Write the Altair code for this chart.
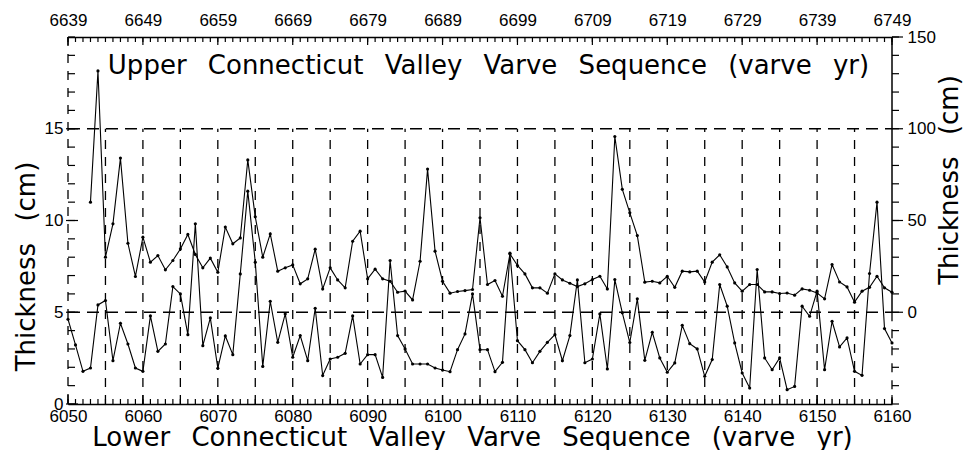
import altair as alt
import pandas as pd

# ---------------- data ----------------
lower_years = list(range(6050, 6161))
lower_thickness = [
    4.62, 3.22, 1.78, 1.96, 5.40, 5.64, 2.36, 4.40, 3.27, 1.96,
    1.78, 4.80, 2.87, 3.27, 6.40, 6.00, 3.78, 9.82, 3.18, 4.69,
    1.95, 3.71, 2.69, 7.09, 11.60, 7.73, 2.05, 5.60, 3.36, 4.91,
    2.55, 3.73, 2.36, 5.22, 1.55, 2.45, 2.55, 2.76, 4.80, 2.18,
    2.69, 2.69, 1.45, 7.82, 3.73, 3.00, 2.18, 2.18, 2.18, 1.96,
    1.85, 1.76, 2.96, 3.82, 6.00, 2.96, 2.96, 1.76, 2.27, 8.22,
    3.45, 2.96, 2.25, 2.87, 3.36, 3.78, 2.36, 3.73, 6.76, 2.25,
    2.45, 4.91, 1.91, 6.78, 4.97, 3.35, 5.73, 2.38, 3.91, 2.51,
    1.73, 2.24, 4.29, 3.29, 3.00, 1.51, 2.42, 6.51, 5.33, 3.33,
    1.69, 0.87, 7.33, 2.51, 1.87, 2.51, 0.78, 0.96, 5.33, 4.78,
    6.15, 1.87, 4.51, 3.11, 3.60, 1.78, 1.56, 7.11, 11.00, 4.11,
    3.33,
]

upper_years = list(range(6642, 6750))
upper_thickness = [
    60.0, 131.5, 30.0, 48.2, 84.0, 37.6, 19.5, 40.9, 27.3, 30.9,
    23.1, 28.2, 34.5, 42.4, 31.5, 24.2, 29.5, 21.8, 46.4, 37.3,
    40.5, 83.0, 52.0, 30.0, 42.7, 22.4, 24.2, 25.8, 15.5, 18.2,
    34.4, 12.7, 24.2, 17.6, 13.3, 38.7, 44.2, 18.2, 23.5, 18.2,
    16.9, 10.9, 11.5, 6.7, 27.8, 78.0, 33.3, 16.9, 10.4, 11.3,
    11.8, 12.4, 51.5, 15.1, 17.3, 8.7, 31.8, 25.5, 20.9, 13.3,
    13.3, 10.4, 20.9, 17.6, 15.8, 14.0, 15.5, 17.8, 19.6, 12.7,
    95.8, 67.0, 54.2, 41.8, 16.4, 16.9, 16.0, 19.6, 13.6, 22.4,
    22.0, 22.4, 16.5, 27.3, 31.3, 24.7, 16.0, 11.5, 15.1, 15.1,
    11.1, 11.1, 10.2, 10.5, 9.3, 12.7, 12.0, 10.5, 7.3, 26.0,
    16.5, 13.8, 5.5, 11.5, 13.6, 19.6, 13.3, 10.9,
]

bottom_tick_labels = list(range(6050, 6161, 10))
top_tick_labels = list(range(6639, 6750, 10))
top_minor_ticks = list(range(6639, 6750))
left_tick_labels = [0, 5, 10, 15]
left_minor_ticks = list(range(0, 21))
right_tick_labels = [0, 50, 100, 150]
right_minor_ticks = list(range(-50, 151, 10))
grid_years = list(range(6055, 6160, 5))
grid_levels = [5, 15]

GAP = "\u2002 "
lower_title = GAP.join(["Lower", "Connecticut", "Valley", "Varve", "Sequence", "(varve", "yr)"])
upper_title = GAP.join(["Upper", "Connecticut", "Valley", "Varve", "Sequence", "(varve", "yr)"])
y_title = "Thickness" + GAP + "(cm)"

# ---------------- style ----------------
W, H = 824, 367
TFONT = "DejaVu Sans"
LFONT = "Liberation Sans"
LSIZE = 17
TSIZE = 26


def xL():
    return alt.Scale(domain=[6050, 6160], nice=False, zero=False)


def yL():
    return alt.Scale(domain=[0, 20], nice=False, zero=False)


def xU():
    return alt.Scale(domain=[6639, 6749], nice=False, zero=False)


def yU():
    return alt.Scale(domain=[-50, 150], nice=False, zero=False)


def axis(**kw):
    base = dict(
        ticks=False, grid=False, labelFont=LFONT, labelFontSize=LSIZE,
        labelColor="black", labelFlush=False, labelOverlap=False,
        titleFont=TFONT, titleFontSize=TSIZE, titleFontWeight="normal",
        titleColor="black", titleBaseline="alphabetic", titleAlign="center",
        format="d", domainColor="black", domainWidth=1.5,
    )
    base.update(kw)
    return alt.Axis(**base)


# ---------------- lower (left/bottom) series ----------------
lower_df = pd.DataFrame({"year": lower_years, "thick": lower_thickness})

lower_line = alt.Chart(lower_df).mark_line(
    color="black", strokeWidth=1.1,
    point=alt.OverlayMarkDef(filled=True, color="black", size=10),
).encode(
    x=alt.X("year:Q", scale=xL(), axis=axis(
        orient="bottom", values=bottom_tick_labels, domain=True, labelPadding=4,
        title=lower_title, titleX=404, titleY=41)),
    y=alt.Y("thick:Q", scale=yL(), axis=axis(
        orient="left", values=left_tick_labels, domain=False, labelPadding=5,
        title=y_title, titleAngle=270, titleX=-34, titleY=229)),
)

grid_v = alt.Chart(pd.DataFrame({"year": grid_years})).mark_rule(
    color="black", strokeWidth=1.3, strokeDash=[9, 8]
).encode(
    x=alt.X("year:Q", scale=xL(), axis=None),
    y=alt.YDatum(0, scale=yL(), axis=None), y2=alt.Y2Datum(15),
)

grid_h = alt.Chart(pd.DataFrame({"level": grid_levels})).mark_rule(
    color="black", strokeWidth=1.3, strokeDash=[12, 7]
).encode(
    y=alt.Y("level:Q", scale=yL(), axis=None),
    x=alt.value(0), x2=alt.value(W),
)

edge_left = alt.Chart(pd.DataFrame({"level": [20]})).mark_rule(
    color="black", strokeWidth=1.3, strokeDash=[9, 8]
).encode(
    y=alt.Y("level:Q", scale=yL(), axis=None), y2=alt.value(H), x=alt.value(0),
)

edge_right_solid = alt.Chart(pd.DataFrame({"level": [20]})).mark_rule(
    color="black", strokeWidth=1.5
).encode(
    y=alt.Y("level:Q", scale=yL(), axis=None), y2=alt.Y2Datum(5), x=alt.value(W),
)

edge_right_dash = alt.Chart(pd.DataFrame({"level": [5]})).mark_rule(
    color="black", strokeWidth=1.3, strokeDash=[9, 8]
).encode(
    y=alt.Y("level:Q", scale=yL(), axis=None), y2=alt.value(H), x=alt.value(W),
)

bt_minor = alt.Chart(pd.DataFrame({"year": lower_years})).mark_rule(
    color="black", strokeWidth=1.2
).encode(x=alt.X("year:Q", scale=xL(), axis=None), y=alt.value(H), y2=alt.value(H - 5))

bt_major = alt.Chart(pd.DataFrame({"year": bottom_tick_labels})).mark_rule(
    color="black", strokeWidth=1.2
).encode(x=alt.X("year:Q", scale=xL(), axis=None), y=alt.value(H), y2=alt.value(H - 9))

lt_minor = alt.Chart(pd.DataFrame({"v": left_minor_ticks})).mark_rule(
    color="black", strokeWidth=1.2
).encode(y=alt.Y("v:Q", scale=yL(), axis=None), x=alt.value(0), x2=alt.value(7))

lt_major = alt.Chart(pd.DataFrame({"v": left_tick_labels})).mark_rule(
    color="black", strokeWidth=1.2
).encode(y=alt.Y("v:Q", scale=yL(), axis=None), x=alt.value(-2), x2=alt.value(10))

# ---------------- upper (top/right) series ----------------
upper_df = pd.DataFrame({"year": upper_years, "thick": upper_thickness})

upper_line = alt.Chart(upper_df).mark_line(
    color="black", strokeWidth=1.1,
    point=alt.OverlayMarkDef(filled=True, color="black", size=10),
).encode(
    x=alt.X("year:Q", scale=xU(), axis=axis(
        orient="top", values=top_tick_labels, domain=True, labelPadding=8,
        title=upper_title, titleX=420, titleY=36)),
    y=alt.Y("thick:Q", scale=yU(), axis=axis(
        orient="right", values=right_tick_labels, domain=False, labelPadding=15,
        title=None)),
)

right_title = alt.Chart(pd.DataFrame({"label": [y_title]})).mark_text(
    angle=270, align="center", baseline="alphabetic",
    font=TFONT, fontSize=TSIZE, color="black",
).encode(text="label:N", x=alt.value(W + 66), y=alt.value(143))

tt_minor = alt.Chart(pd.DataFrame({"year": top_minor_ticks})).mark_rule(
    color="black", strokeWidth=1.2
).encode(x=alt.X("year:Q", scale=xU(), axis=None), y=alt.value(0), y2=alt.value(5))

tt_major = alt.Chart(pd.DataFrame({"year": top_tick_labels})).mark_rule(
    color="black", strokeWidth=1.2
).encode(x=alt.X("year:Q", scale=xU(), axis=None), y=alt.value(0), y2=alt.value(8))

rt_minor = alt.Chart(pd.DataFrame({"v": right_minor_ticks})).mark_rule(
    color="black", strokeWidth=1.2
).encode(y=alt.Y("v:Q", scale=yU(), axis=None), x=alt.value(W), x2=alt.value(W + 7))

rt_major = alt.Chart(pd.DataFrame({"v": right_tick_labels})).mark_rule(
    color="black", strokeWidth=1.2
).encode(y=alt.Y("v:Q", scale=yU(), axis=None), x=alt.value(W), x2=alt.value(W + 11))

chart = alt.layer(
    grid_v, grid_h, edge_left, edge_right_solid, edge_right_dash,
    bt_minor, bt_major, lt_minor, lt_major,
    tt_minor, tt_major, rt_minor, rt_major,
    lower_line, upper_line, right_title,
).resolve_scale(
    x="independent", y="independent"
).properties(
    width=W, height=H,
    padding={"left": 60, "top": 29, "right": 72, "bottom": 46},
    autosize=alt.AutoSizeParams(type="none"),
    background="white",
).configure_view(stroke=None)

chart.save("out.html", embed_options={"renderer": "svg", "actions": False})
